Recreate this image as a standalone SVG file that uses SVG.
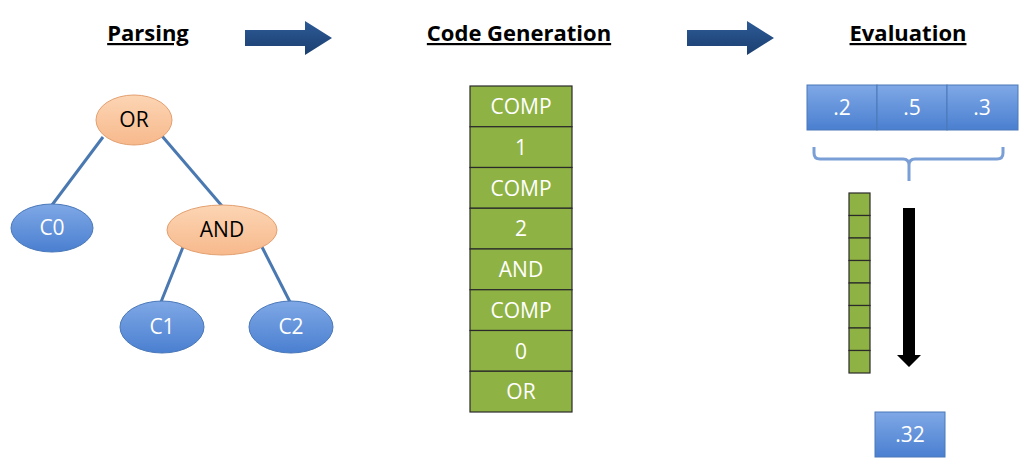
<svg xmlns="http://www.w3.org/2000/svg" width="1024" height="474" viewBox="0 0 1024 474">
<defs>
<linearGradient id="gb" x1="0" y1="0" x2="0" y2="1"><stop offset="0" stop-color="#7fa8e6"/><stop offset="1" stop-color="#4a7fd0"/></linearGradient>
<linearGradient id="go" x1="0" y1="0" x2="0" y2="1"><stop offset="0" stop-color="#fcd5b4"/><stop offset="1" stop-color="#f7b98c"/></linearGradient>
<linearGradient id="ga" x1="0" y1="0" x2="0" y2="1"><stop offset="0" stop-color="#2c5a96"/><stop offset="1" stop-color="#1c3f70"/></linearGradient>
</defs>
<style>
.t{font-family:"Open Sans","Liberation Sans",sans-serif;font-weight:bold;font-size:22px;text-decoration:underline;text-anchor:middle;fill:#000}
.l{font-family:"Open Sans","Liberation Sans",sans-serif;font-size:21px;text-anchor:middle}
.w{fill:#fff}.k{fill:#000}
.blue{fill:url(#gb);stroke:#4a78b8;stroke-width:1}
.or{fill:url(#go);stroke:#e3a070;stroke-width:1}
.g{fill:#8fb244;stroke:#2a2a2a;stroke-width:1.2}
.e{stroke:#4a78b0;stroke-width:3;fill:none}
</style>
<rect width="1024" height="474" fill="#fff"/>
<text class="t" x="148" y="41">Parsing</text>
<text class="t" x="519" y="41">Code Generation</text>
<text class="t" x="908" y="41">Evaluation</text>
<g id="arrows">
<path d="M245 30h60v-9l27 17-27 17v-9h-60z" fill="url(#ga)"/>
<path d="M687 30h60v-9l27 17-27 17v-9h-60z" fill="url(#ga)"/>
</g>
<g id="connectors">
<line class="e" x1="103" y1="137" x2="52" y2="205"/>
<line class="e" x1="162" y1="136" x2="222" y2="206"/>
<line class="e" x1="183" y1="247" x2="161" y2="302"/>
<line class="e" x1="262" y1="247" x2="290" y2="302"/>
</g>
<g id="OR"><ellipse class="or" cx="134" cy="120" rx="38" ry="25"/><text class="l k" x="134" y="127">OR</text></g>
<g id="C0"><ellipse class="blue" cx="52" cy="228" rx="41" ry="24"/><text class="l w" x="52" y="235">C0</text></g>
<g id="AND"><ellipse class="or" cx="222" cy="230" rx="55" ry="25"/><text class="l k" x="222" y="237">AND</text></g>
<g id="C1"><ellipse class="blue" cx="162" cy="327" rx="42" ry="26"/><text class="l w" x="162" y="334">C1</text></g>
<g id="C2"><ellipse class="blue" cx="291" cy="327" rx="42" ry="26"/><text class="l w" x="291" y="334">C2</text></g>
<g id="code">
<rect class="g" x="470" y="86" width="102" height="40.75"/>
<rect class="g" x="470" y="126.75" width="102" height="40.75"/>
<rect class="g" x="470" y="167.5" width="102" height="40.75"/>
<rect class="g" x="470" y="208.25" width="102" height="40.75"/>
<rect class="g" x="470" y="249" width="102" height="40.75"/>
<rect class="g" x="470" y="289.75" width="102" height="40.75"/>
<rect class="g" x="470" y="330.5" width="102" height="40.75"/>
<rect class="g" x="470" y="371.25" width="102" height="40.75"/>
<text class="l w" x="521" y="114">COMP</text>
<text class="l w" x="521" y="155">1</text>
<text class="l w" x="521" y="196">COMP</text>
<text class="l w" x="521" y="236">2</text>
<text class="l w" x="521" y="277">AND</text>
<text class="l w" x="521" y="318">COMP</text>
<text class="l w" x="521" y="359">0</text>
<text class="l w" x="521" y="399">OR</text>
</g>
<g id="probs">
<rect class="blue" x="807" y="85" width="70" height="45"/>
<rect class="blue" x="877" y="85" width="70" height="45"/>
<rect class="blue" x="947" y="85" width="71" height="45"/>
<text class="l w" x="842" y="115">.2</text>
<text class="l w" x="912" y="115">.5</text>
<text class="l w" x="982" y="115">.3</text>
</g>
<path d="M814 147v6q0 6 6 6h83q6 0 6 6v16M909 165q0-6 6-6h82q6 0 6-6v-6" fill="none" stroke="#7a9fd6" stroke-width="3"/>
<g id="stack" class="g">
<rect class="g" x="849" y="193" width="21" height="22.5"/>
<rect class="g" x="849" y="215.5" width="21" height="22.5"/>
<rect class="g" x="849" y="238" width="21" height="22.5"/>
<rect class="g" x="849" y="260.5" width="21" height="22.5"/>
<rect class="g" x="849" y="283" width="21" height="22.5"/>
<rect class="g" x="849" y="305.5" width="21" height="22.5"/>
<rect class="g" x="849" y="328" width="21" height="22.5"/>
<rect class="g" x="849" y="350.5" width="21" height="22.5"/>
</g>
<path d="M903 208h12v147h6l-12 12-12-12h6z" fill="#000"/>
<g id="result"><rect class="blue" x="875" y="412" width="70" height="45"/><text class="l w" x="910" y="442">.32</text></g>
</svg>
